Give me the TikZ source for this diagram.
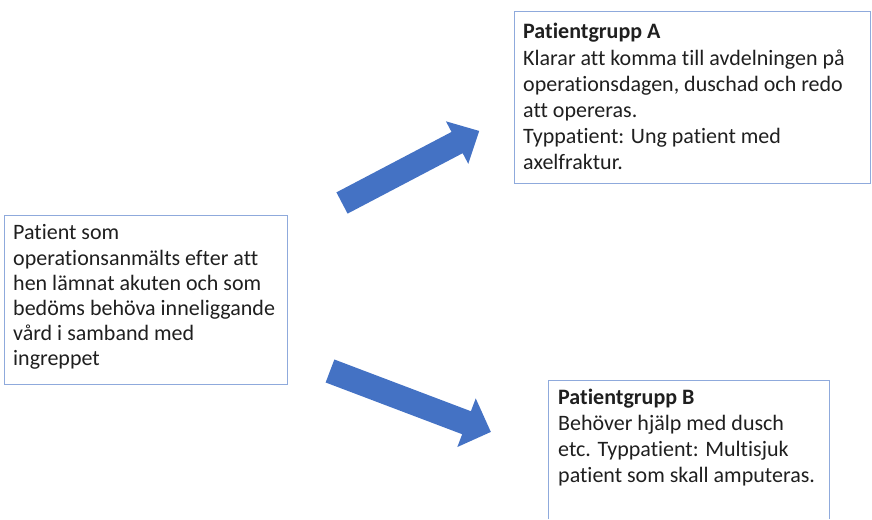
\documentclass[tikz,border=0pt]{standalone}
\usepackage{fontspec}
\setmainfont{Carlito}[Ligatures=NoCommon]
\definecolor{boxline}{HTML}{8FAADC}
\definecolor{arrowblue}{HTML}{4472C4}
\begin{document}
\begin{tikzpicture}[x=1pt,y=1pt,
  box/.style={draw=boxline, line width=0.9pt, inner sep=0pt, anchor=south west},
  txt/.style={anchor=base west, inner sep=0pt, align=left, text=black!88,
    font=\fontsize{22}{26.2}\selectfont},
  blockarrow/.style={fill=arrowblue, draw=none}]
\useasboundingbox (0,0) rectangle (872,519);
% boxes
\node[box, minimum width=356pt, minimum height=172pt] (boxA) at (514,335) {};
\node[box, minimum width=283pt, minimum height=169pt] (boxL) at (4,134) {};
\draw[boxline, line width=0.9pt] (548,0) -- (548,139) -- (829,139) -- (829,0);
\coordinate (boxB) at (548,139);
% texts (anchored at the baseline of the last line)
\node[txt] (textA) at (523,349) {\textbf{Patientgrupp A}\\
Klarar att komma till avdelningen på\\
operationsdagen, duschad och redo\\
att opereras.\\
Typpatient: Ung patient med\\
axelfraktur.};
\node[txt, font=\fontsize{22}{25.2}\selectfont] (textL) at (13,153) {Patient som\\
operationsanmälts efter att\\
hen lämnat akuten och som\\
bedöms behöva inneliggande\\
vård i samband med\\
ingreppet};
\node[txt, font=\fontsize{22}{26}\selectfont] (textB) at (558,36) {\textbf{Patientgrupp B}\\
Behöver hjälp med dusch\\
etc. Typpatient: Multisjuk\\
patient som skall amputeras.};
% block arrows
\begin{scope}[shift={(342,316)}, rotate=27.7]
\fill[blockarrow] (0,-12) -- (130,-12) -- (130,-24) -- (155,0) -- (130,24) -- (130,12) -- (0,12) -- cycle;
\end{scope}
\begin{scope}[shift={(330,148)}, rotate=-20.75]
\fill[blockarrow] (0,-12.3) -- (146,-12.3) -- (146,-26) -- (172,0) -- (146,26) -- (146,12.3) -- (0,12.3) -- cycle;
\end{scope}
\end{tikzpicture}
\end{document}
